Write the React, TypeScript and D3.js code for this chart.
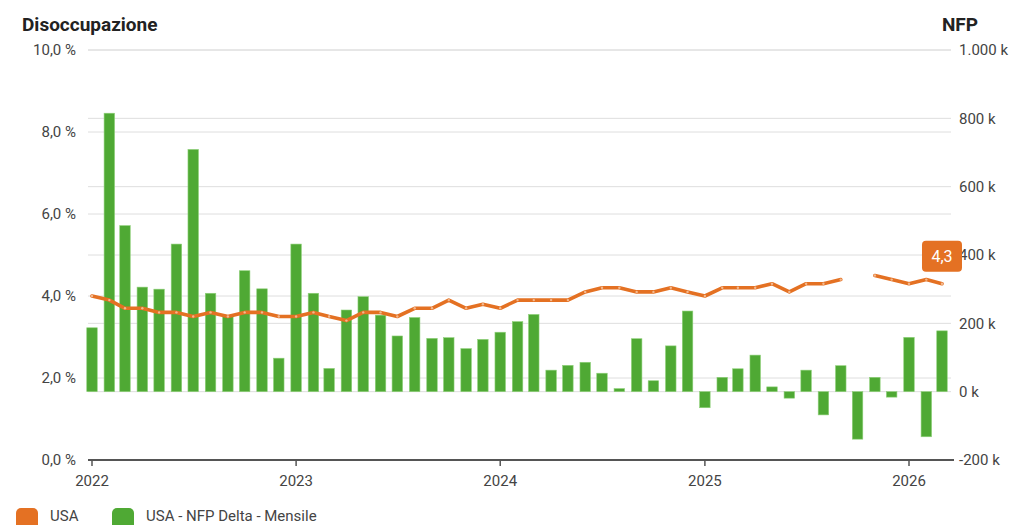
import React from "react";
import * as d3 from "d3";

const startMonth = new Date(2022, 0, 1);
const months: Date[] = d3.timeMonth.range(startMonth, new Date(2026, 3, 1));

const unemployment: (number | null)[] = [
  4.0, 3.9, 3.7, 3.7, 3.6, 3.6, 3.5, 3.6, 3.5, 3.6, 3.6, 3.5,
  3.5, 3.6, 3.5, 3.4, 3.6, 3.6, 3.5, 3.7, 3.7, 3.9, 3.7, 3.8,
  3.7, 3.9, 3.9, 3.9, 3.9, 4.1, 4.2, 4.2, 4.1, 4.1, 4.2, 4.1,
  4.0, 4.2, 4.2, 4.2, 4.3, 4.1, 4.3, 4.3, 4.4, null, 4.5, 4.4,
  4.3, 4.4, 4.3,
];

const nfp: number[] = [
  187, 815, 486, 306, 300, 432, 709, 288, 220, 354, 301, 98,
  432, 288, 68, 239, 278, 224, 163, 217, 156, 158, 126, 153,
  174, 205, 226, 63, 77, 86, 54, 9, 155, 32, 134, 236,
  -47, 42, 67, 107, 14, -19, 63, -68, 76, -139, 42, -16,
  159, -132, 178,
];

const leftTicks = [0, 2, 4, 6, 8, 10];
const rightTicks = [-200, 0, 200, 400, 600, 800, 1000];
const yearTicks = [2022, 2023, 2024, 2025, 2026];

const ORANGE = "#E47123";
const GREEN = "#4FA934";
const FONT = "Roboto, 'Noto Sans', sans-serif";

export default function App() {
  const W = 1019;
  const H = 525;
  const top = 50;
  const bottom = 460;
  const left = 88;
  const right = 951;

  const x = d3
    .scaleTime()
    .domain([new Date(2022, 0, 1), new Date(2026, 0, 1)])
    .range([92, 909]);
  const yL = d3.scaleLinear().domain([0, 10]).range([bottom, top]);
  const yR = d3.scaleLinear().domain([-200, 1000]).range([bottom, top]);

  const fmtPct = (v: number) => v.toFixed(1).replace(".", ",") + " %";
  const fmtK = (v: number) =>
    (Math.abs(v) >= 1000
      ? (v < 0 ? "-" : "") + Math.floor(Math.abs(v) / 1000) + "." + String(Math.abs(v) % 1000).padStart(3, "0")
      : String(v)) + " k";

  const line = d3
    .line<number | null>()
    .defined((d) => d !== null)
    .x((_, i) => x(months[i]))
    .y((d) => yL(d as number))
    .curve(d3.curveLinear);

  const barW = 10.5;
  const lastIdx = unemployment.length - 1;
  const lastVal = unemployment[lastIdx] as number;
  const lx = x(months[lastIdx]);
  const ly = yL(lastVal);

  return (
    <svg
      width={W}
      height={H}
      style={{ position: "absolute", left: 0, top: 0, display: "block" }}
      fontFamily={FONT}
    >
      <rect width={W} height={H} fill="#fff" />
      {leftTicks.slice(1).map((t) => (
        <line key={"gl" + t} x1={left} x2={right} y1={yL(t)} y2={yL(t)} stroke="#dedede" strokeWidth={1} />
      ))}
      {rightTicks.slice(1).map((t) => (
        <line key={"gr" + t} x1={left} x2={right} y1={yR(t)} y2={yR(t)} stroke="#dedede" strokeWidth={1} />
      ))}
      <text x={22} y={31} fontSize={19} fontWeight="bold" fill="#222">Disoccupazione</text>
      <text x={978} y={31} fontSize={19} fontWeight="bold" fill="#222" textAnchor="end">NFP</text>
      {leftTicks.map((t) => (
        <text key={"ll" + t} x={76} y={yL(t)} dy="0.35em" fontSize={15} fill="#444" textAnchor="end">
          {fmtPct(t)}
        </text>
      ))}
      {rightTicks.map((t) => (
        <text key={"rl" + t} x={959} y={yR(t)} dy="0.35em" fontSize={15} fill="#444">
          {fmtK(t)}
        </text>
      ))}
      {nfp.map((v, i) => {
        const cx = x(months[i]);
        const y0 = yR(0);
        const y1 = yR(v);
        return (
          <rect
            key={"b" + i}
            x={cx - barW / 2}
            y={Math.min(y0, y1)}
            width={barW}
            height={Math.abs(y1 - y0)}
            fill={GREEN}
            stroke="#8fd17a"
            strokeWidth={0.6}
          />
        );
      })}
      <path d={line(unemployment) || ""} fill="none" stroke={ORANGE} strokeWidth={3.6} strokeLinejoin="round" strokeLinecap="round" />
      {unemployment.map((v, i) =>
        v === null ? null : (
          <circle key={"p" + i} cx={x(months[i])} cy={yL(v)} r={1.2} fill="#f3b98f" />
        )
      )}
      <line x1={left} x2={954} y1={bottom} y2={bottom} stroke="#555" strokeWidth={2} />
      {yearTicks.map((yr) => {
        const xx = x(new Date(yr, 0, 1));
        return (
          <g key={"yt" + yr}>
            <line x1={xx} x2={xx} y1={bottom} y2={bottom + 6} stroke="#555" strokeWidth={1.5} />
            <text x={xx} y={486} fontSize={15} fill="#444" textAnchor="middle">{yr}</text>
          </g>
        );
      })}
      <rect x={lx - 20} y={ly - 43} width={40} height={31} rx={4} fill={ORANGE} />
      <text x={lx} y={ly - 27.5} dy="0.35em" fontSize={16} fill="#fff" textAnchor="middle">
        {lastVal.toFixed(1).replace(".", ",")}
      </text>
      <rect x={16} y={508} width={22} height={22} rx={5} fill={ORANGE} />
      <text x={50} y={521} fontSize={15} fill="#444">USA</text>
      <rect x={112} y={508} width={22} height={22} rx={5} fill={GREEN} />
      <text x={146} y={521} fontSize={15} fill="#444">USA - NFP Delta - Mensile</text>
    </svg>
  );
}
